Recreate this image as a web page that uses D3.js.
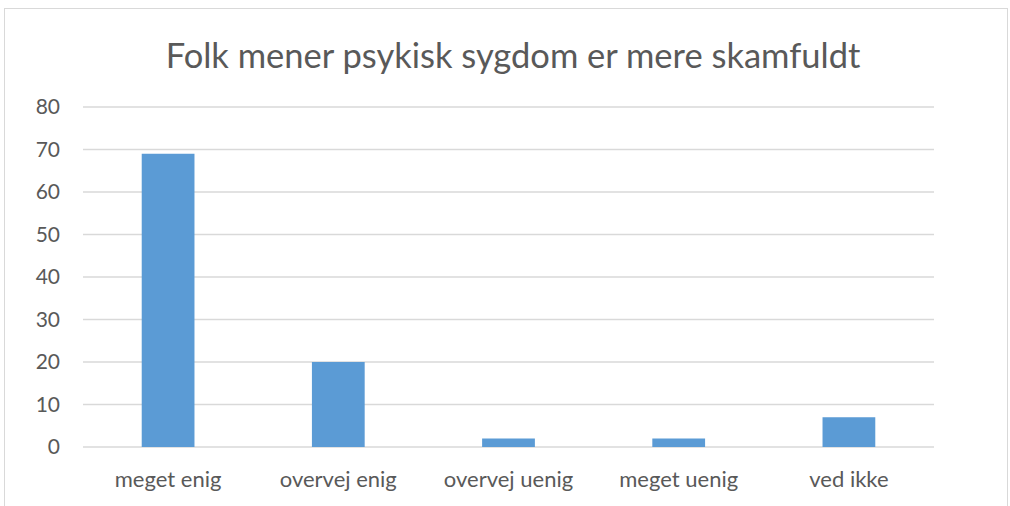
<!DOCTYPE html>
<html>
<head>
<meta charset="utf-8">
<script src="https://cdn.jsdelivr.net/npm/d3@7"></script>
<style>
  body { margin: 0; background: #fff; }
  svg { display: block; font-family: Lato, "Open Sans", sans-serif; }
</style>
</head>
<body>
<svg id="chart" width="1010" height="506"></svg>
<script>
const title = 'Folk mener psykisk sygdom er mere skamfuldt';
const categories = ['meget enig', 'overvej enig', 'overvej uenig', 'meget uenig', 'ved ikke'];
const values = [69, 20, 2, 2, 7];
const yTicks = [0, 10, 20, 30, 40, 50, 60, 70, 80];

const svg = d3.select('#chart'),
  margin = {top: 107, right: 76, bottom: 59, left: 83},
  width = +svg.attr('width') - margin.left - margin.right,
  height = +svg.attr('height') - margin.top - margin.bottom;

// chart area border
svg.append('rect')
  .attr('x', 4.5).attr('y', 8.5)
  .attr('width', 1003).attr('height', 510)
  .attr('fill', 'none')
  .attr('stroke', '#d9d9d9');

svg.append('text')
  .attr('x', 513).attr('y', 68)
  .attr('text-anchor', 'middle')
  .attr('fill', '#595959')
  .style('font-size', '34.5px')
  .text(title);

const g = svg.append('g').attr('transform', 'translate(' + margin.left + ',' + margin.top + ')');

const x = d3.scaleBand().domain(categories).range([0, width]).paddingInner(0.69).paddingOuter(0.345);
const y = d3.scaleLinear().domain([0, 80]).range([height, 0]);

g.append('g')
  .selectAll('line')
  .data(yTicks)
  .join('line')
  .attr('x1', 0).attr('x2', width)
  .attr('y1', d => y(d)).attr('y2', d => y(d))
  .attr('stroke', '#d9d9d9')
  .attr('stroke-width', 1.3);

g.append('g')
  .selectAll('text')
  .data(yTicks)
  .join('text')
  .attr('x', -23).attr('y', d => y(d))
  .attr('dy', '0.35em')
  .attr('text-anchor', 'end')
  .attr('fill', '#595959')
  .style('font-size', '21px')
  .text(d => d);

g.append('g')
  .selectAll('rect')
  .data(values)
  .join('rect')
  .attr('x', (d, i) => x(categories[i]))
  .attr('y', d => y(d))
  .attr('width', x.bandwidth())
  .attr('height', d => y(0) - y(d))
  .attr('fill', '#5b9bd5');

g.append('g')
  .selectAll('text')
  .data(categories)
  .join('text')
  .attr('x', d => x(d) + x.bandwidth() / 2)
  .attr('y', height + 40)
  .attr('text-anchor', 'middle')
  .attr('fill', '#595959')
  .style('font-size', '22px')
  .text(d => d);
</script>
</body>
</html>
